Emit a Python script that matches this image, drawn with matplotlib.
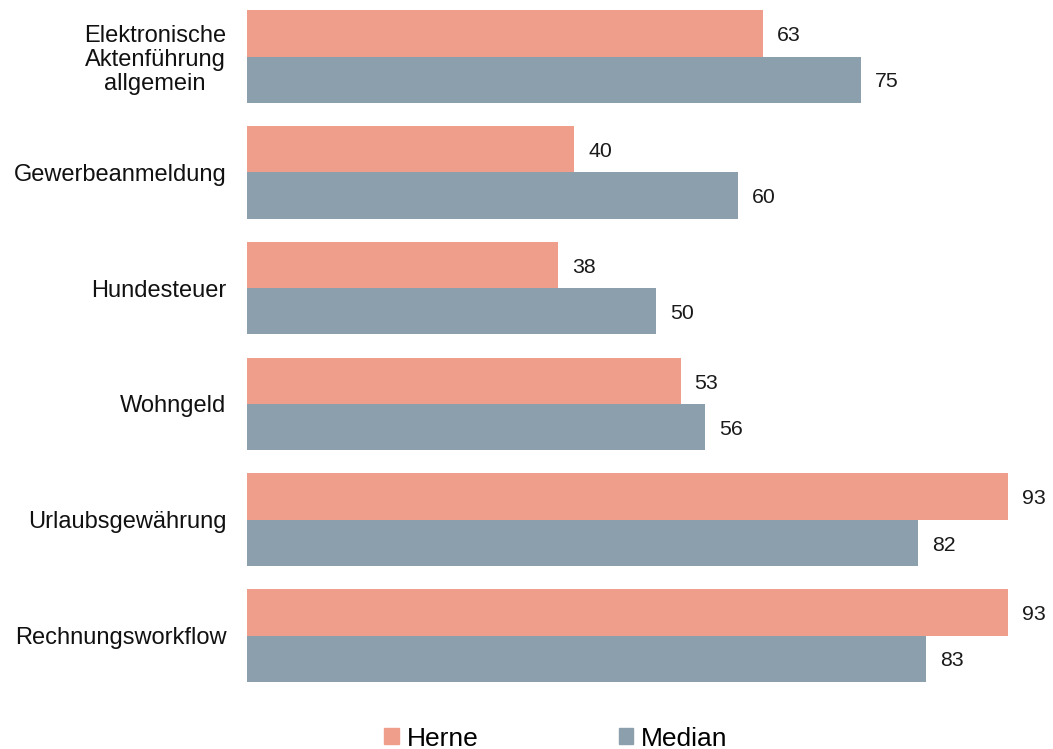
import matplotlib.pyplot as plt
import numpy as np
from matplotlib.patches import Patch

plt.rcParams['font.family'] = ['Liberation Sans', 'DejaVu Sans']

categories = ["Elektronische\nAktenführung\nallgemein", "Gewerbeanmeldung", "Hundesteuer",
              "Wohngeld", "Urlaubsgewährung", "Rechnungsworkflow"]
herne = [63, 40, 38, 53, 93, 93]
median = [75, 60, 50, 56, 82, 83]

c_herne = "#F09E8C"
c_median = "#8BA0AC"

fig = plt.figure(figsize=(10.53, 7.49), dpi=100)
ax = fig.add_axes([247 / 1053, 1 - 700 / 749, (1040 - 247) / 1053, 700 / 749])

y = np.arange(len(categories))
h = 0.4
b1 = ax.barh(y - h / 2, herne, height=h, color=c_herne)
b2 = ax.barh(y + h / 2, median, height=h, color=c_median)

for bars in (b1, b2):
    for bar in bars:
        w = bar.get_width()
        ax.text(w + 1.7, bar.get_y() + bar.get_height() / 2 + 0.02, f"{w:g}",
                va="center", ha="left", fontsize=15.3, color="#1a1a1a")

ax.set_yticks(y)
ax.set_yticklabels(categories, fontsize=17, multialignment="center",
                   linespacing=1.1, color="#111111")
ax.tick_params(axis="y", length=0, pad=15)
ax.set_ylim(5.557, -0.488)
ax.set_xlim(0, (1040 - 247) / 8.183)
ax.set_xticks([])
for s in ax.spines.values():
    s.set_visible(False)

handles = [Patch(color=c_herne, label="Herne"), Patch(color=c_median, label="Median")]
fig.legend(handles=handles, loc="lower center", bbox_to_anchor=(0.528, -0.034), ncol=2,
           frameon=False, fontsize=19, handlelength=0.55, handleheight=0.55,
           handletextpad=0.3, columnspacing=5.3)

fig.savefig("out.png", dpi=100)
